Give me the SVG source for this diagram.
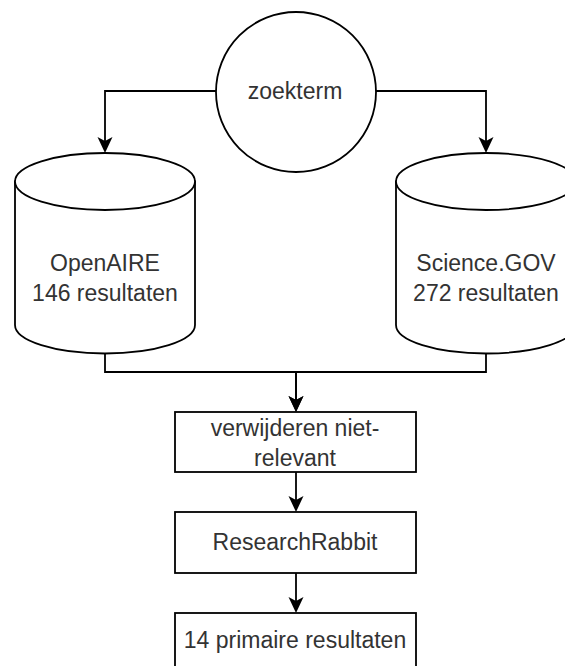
<svg xmlns="http://www.w3.org/2000/svg" width="565" height="666" viewBox="0 0 565 666">
<style>
.s{fill:#fff;stroke:#000;stroke-width:1.8}
.c{fill:none;stroke:#000;stroke-width:1.8}
text{font-family:"Liberation Sans",Arial,sans-serif;font-size:23px;fill:#333;text-anchor:middle}
</style>
<defs>
<marker id="a" viewBox="0 0 16 16" refX="4" refY="8" markerWidth="16" markerHeight="16" orient="auto" markerUnits="userSpaceOnUse">
<path d="M0,0.5 L16,8 L0,15.5 L4,8 Z" fill="#000"/>
</marker>
</defs>
<rect width="565" height="666" fill="#fff"/>
<g id="connectors">
<path class="c" d="M216,91 H105 V141" marker-end="url(#a)"/>
<path class="c" d="M376,91 H486 V141" marker-end="url(#a)"/>
<path class="c" d="M105,354 V372 H296 V400" marker-end="url(#a)"/>
<path class="c" d="M486,354 V372 H296 V400" marker-end="url(#a)"/>
<path class="c" d="M296,472 V500" marker-end="url(#a)"/>
<path class="c" d="M296,573 V601" marker-end="url(#a)"/>
</g>
<g id="zoekterm">
<circle class="s" cx="296" cy="92" r="80"/>
<text x="295" y="99">zoekterm</text>
</g>
<g id="openaire">
<path class="s" d="M15,181.5 L15,325 A90,28.5 0 0 0 195,325 L195,181.5 Z"/>
<ellipse class="s" cx="105" cy="181.5" rx="90" ry="28.5"/>
<text x="105" y="271">OpenAIRE</text>
<text x="105" y="301">146 resultaten</text>
</g>
<g id="sciencegov">
<path class="s" d="M396,181.5 L396,325 A90,28.5 0 0 0 576,325 L576,181.5 Z"/>
<ellipse class="s" cx="486" cy="181.5" rx="90" ry="28.5"/>
<text x="486" y="271">Science.GOV</text>
<text x="486" y="301">272 resultaten</text>
</g>
<g id="verwijderen">
<rect class="s" x="175" y="412" width="241" height="60"/>
<text x="295" y="436">verwijderen niet-</text>
<text x="295" y="466">relevant</text>
</g>
<g id="researchrabbit">
<rect class="s" x="175" y="512" width="241" height="61"/>
<text x="295" y="550">ResearchRabbit</text>
</g>
<g id="primair">
<rect class="s" x="175" y="613" width="241" height="60"/>
<text x="295" y="648">14 primaire resultaten</text>
</g>
</svg>
